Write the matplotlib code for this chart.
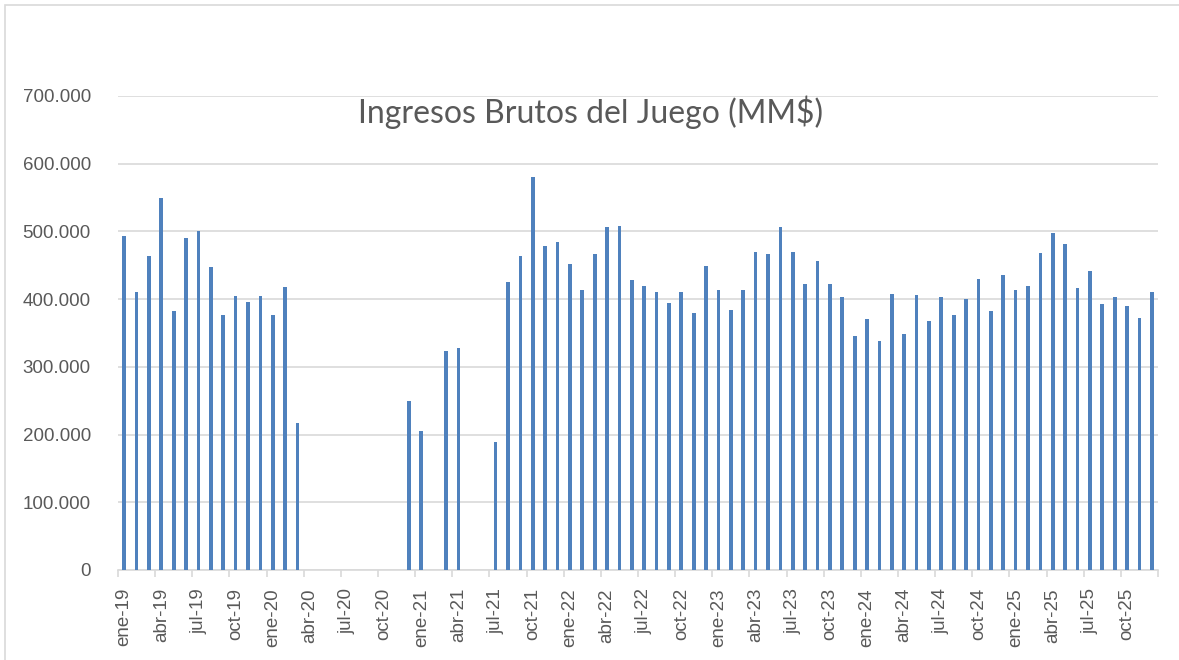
import matplotlib

matplotlib.use("Agg")

import matplotlib.pyplot as plt
from matplotlib.patches import Rectangle
from matplotlib.ticker import FuncFormatter, FixedLocator

BAR = "#4f81bd"
TEXT = "#595959"
GRID = "#d9d9d9"

MONTHS = ["ene", "feb", "mar", "abr", "may", "jun", "jul", "ago", "sep", "oct", "nov", "dic"]
YEARS = ["19", "20", "21", "22", "23", "24", "25"]
labels = [f"{m}-{y}" for y in YEARS for m in MONTHS]

# ingresos mensuales (miles de MM$), 0 = sin dato
ingresos = [
    493, 411, 463, 549, 382, 490, 501, 447, 377, 404, 396, 404,   # 2019
    377, 418, 217, 0, 0, 0, 0, 0, 0, 0, 0, 249,                   # 2020
    205, 0, 323, 328, 0, 0, 189, 425, 463, 581, 479, 484,         # 2021
    452, 414, 467, 506, 508, 428, 420, 411, 395, 411, 379, 449,   # 2022
    414, 384, 414, 470, 466, 506, 470, 422, 457, 422, 403, 346,   # 2023
    370, 338, 408, 349, 406, 368, 403, 377, 400, 430, 382, 435,   # 2024
    414, 420, 468, 498, 481, 417, 441, 393, 403, 390, 372, 411,   # 2025
]
values = [v * 1000 for v in ingresos]

W, H = 1179, 660
fig = plt.figure(figsize=(W / 100, H / 100), dpi=100, facecolor="white")

# chart border (cropped on right and bottom)
fig.patches.append(
    Rectangle((5 / W, -0.2), 1.5, 1.2 - 5 / H, transform=fig.transFigure,
              fill=False, edgecolor=GRID, linewidth=1.2)
)

ax = fig.add_axes([118 / W, 1 - 570 / H, 1040 / W, (570 - 96) / H])
x = list(range(len(values)))
ax.bar(x, values, width=0.3, color=BAR, zorder=3)

ax.set_xlim(-0.5, len(values) - 0.5)
ax.set_ylim(0, 700000)
ax.set_yticks(range(0, 700001, 100000))
ax.yaxis.set_major_formatter(FuncFormatter(lambda v, p: f"{int(v):,}".replace(",", ".")))
ax.grid(axis="y", color=GRID, linewidth=1.2, zorder=0)

for s in ["top", "right", "left"]:
    ax.spines[s].set_visible(False)
ax.spines["bottom"].set_color(GRID)
ax.spines["bottom"].set_linewidth(1.2)

# tick marks at quarter boundaries, labels at bar positions
ax.xaxis.set_major_locator(FixedLocator([i - 0.5 for i in range(0, len(values) + 1, 3)]))
ax.xaxis.set_major_formatter(FuncFormatter(lambda v, p: ""))
ax.xaxis.set_minor_locator(FixedLocator(list(range(0, len(values), 3))))
ax.set_xticklabels([labels[i] for i in range(0, len(values), 3)], minor=True)
ax.tick_params(axis="x", which="major", length=5, color=GRID, width=1.2)
ax.tick_params(axis="x", which="minor", length=0, pad=13, rotation=90,
               labelsize=13.5, labelcolor=TEXT)
ax.tick_params(axis="y", length=0, pad=19.5, labelsize=13.5, labelcolor=TEXT)
for t in ax.get_xticklabels(minor=True) + ax.get_yticklabels():
    t.set_fontfamily("Liberation Sans")

fig.text(591 / W, 1 - 112 / H, "Ingresos Brutos del Juego (MM$)", ha="center", va="center",
         fontsize=23, color=TEXT, family="Lato")

fig.savefig("out.png", dpi=100, facecolor="white")
